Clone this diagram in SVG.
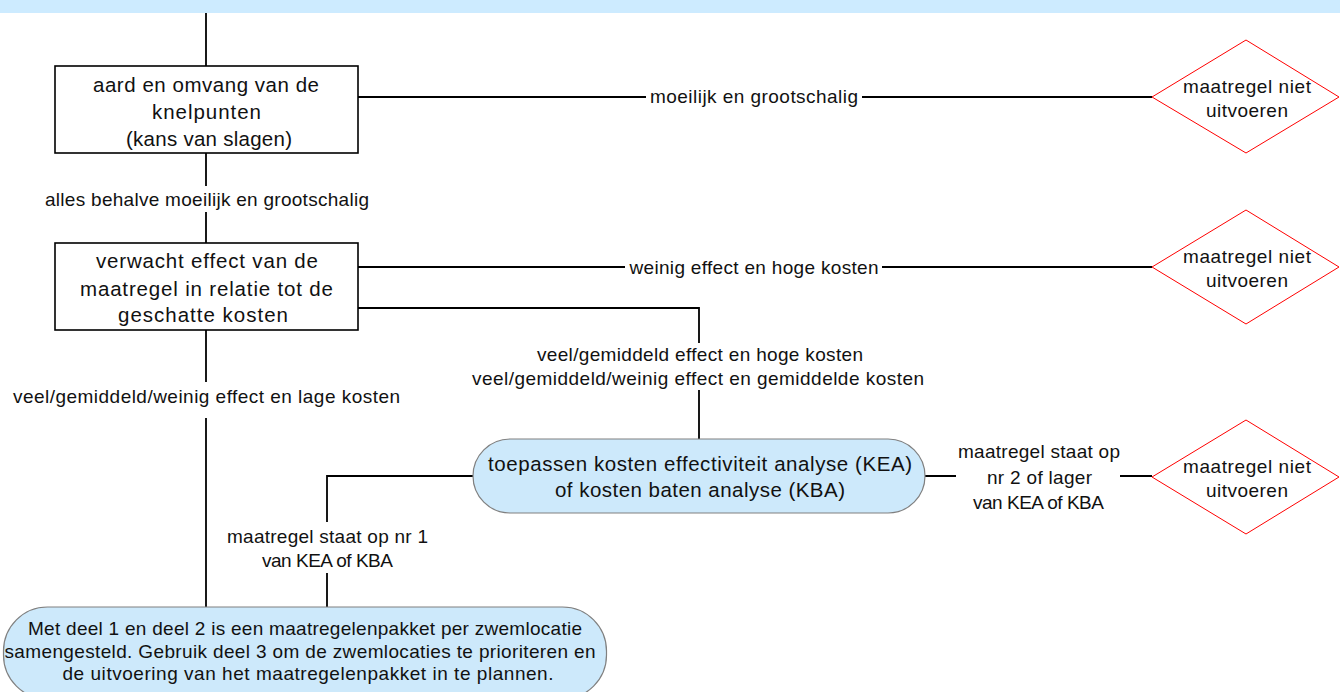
<svg xmlns="http://www.w3.org/2000/svg" width="1340" height="692" viewBox="0 0 1340 692">
<style>
text{font-family:"Liberation Sans",Arial,sans-serif;fill:#111;text-anchor:middle}
.bx{font-size:20.5px}
.lb{font-size:19px}
.box{fill:#fff;stroke:#000;stroke-width:1.6}
.term{fill:#cde9fb;stroke:#808080;stroke-width:1.2}
.dia{fill:#fff;stroke:#ff0000;stroke-width:1}
.con path{fill:none;stroke:#000;stroke-width:1.8}
.bg{fill:#fff}
</style>
<rect x="0" y="0" width="1340" height="13" fill="#cdebff"/>
<g class="con" id="connectors">
<path d="M206 13V66"/>
<path d="M358 97H1152"/>
<path d="M206 153V243"/>
<path d="M358 267H1152"/>
<path d="M358 308H699V439"/>
<path d="M206 330V607"/>
<path d="M925 476H1152"/>
<path d="M473 476H327V607"/>
</g>
<g id="labels">
<rect class="bg" x="646" y="86" width="216" height="22"/>
<text class="lb" x="754" y="103" textLength="208" lengthAdjust="spacing">moeilijk en grootschalig</text>
<rect class="bg" x="40" y="186" width="334" height="26"/>
<text class="lb" x="207" y="206" textLength="324" lengthAdjust="spacing">alles behalve moeilijk en grootschalig</text>
<rect class="bg" x="625" y="256" width="257" height="22"/>
<text class="lb" x="754" y="274" textLength="249" lengthAdjust="spacing">weinig effect en hoge kosten</text>
<rect class="bg" x="468" y="343" width="462" height="47"/>
<text class="lb" x="700" y="361" textLength="326" lengthAdjust="spacing">veel/gemiddeld effect en hoge kosten</text>
<text class="lb" x="698" y="385" textLength="452" lengthAdjust="spacing">veel/gemiddeld/weinig effect en gemiddelde kosten</text>
<rect class="bg" x="8" y="382" width="398" height="36"/>
<text class="lb" x="206.5" y="403" textLength="387" lengthAdjust="spacing">veel/gemiddeld/weinig effect en lage kosten</text>
<rect class="bg" x="956" y="440" width="164" height="76"/>
<text class="lb" x="1039" y="458" textLength="162" lengthAdjust="spacing">maatregel staat op</text>
<text class="lb" x="1039.5" y="484" textLength="105" lengthAdjust="spacing">nr 2 of lager</text>
<text class="lb" x="1038.5" y="509" textLength="131" lengthAdjust="spacing">van KEA of KBA</text>
<rect class="bg" x="222" y="522" width="210" height="51"/>
<text class="lb" x="327.5" y="543" textLength="201" lengthAdjust="spacing">maatregel staat op nr 1</text>
<text class="lb" x="327.5" y="567" textLength="131" lengthAdjust="spacing">van KEA of KBA</text>
</g>
<g id="n1">
<rect class="box" x="55" y="66" width="303" height="87"/>
<text class="bx" x="206" y="92" textLength="226" lengthAdjust="spacing">aard en omvang van de</text>
<text class="bx" x="206.5" y="119" textLength="109" lengthAdjust="spacing">knelpunten</text>
<text class="bx" x="209" y="146" textLength="166" lengthAdjust="spacing">(kans van slagen)</text>
</g>
<g id="n2">
<rect class="box" x="55" y="243" width="303" height="87"/>
<text class="bx" x="207" y="268" textLength="222" lengthAdjust="spacing">verwacht effect van de</text>
<text class="bx" x="206.5" y="296" textLength="253" lengthAdjust="spacing">maatregel in relatie tot de</text>
<text class="bx" x="203" y="322" textLength="170" lengthAdjust="spacing">geschatte kosten</text>
</g>
<g id="d1">
<polygon class="dia" points="1152,97 1246,40 1339,97 1246,153"/>
<text class="lb" x="1247" y="93" textLength="128" lengthAdjust="spacing">maatregel niet</text>
<text class="lb" x="1247" y="117" textLength="82" lengthAdjust="spacing">uitvoeren</text>
</g>
<g id="d2">
<polygon class="dia" points="1152,267 1246,210 1339,267 1246,324"/>
<text class="lb" x="1247" y="263" textLength="128" lengthAdjust="spacing">maatregel niet</text>
<text class="lb" x="1247" y="287" textLength="82" lengthAdjust="spacing">uitvoeren</text>
</g>
<g id="d3">
<polygon class="dia" points="1152,477 1246,420 1339,477 1246,534"/>
<text class="lb" x="1247" y="473" textLength="128" lengthAdjust="spacing">maatregel niet</text>
<text class="lb" x="1247" y="497" textLength="82" lengthAdjust="spacing">uitvoeren</text>
</g>
<g id="kea">
<rect class="term" x="473" y="439" width="452" height="74" rx="37" ry="37"/>
<text class="bx" x="700" y="471" textLength="424" lengthAdjust="spacing">toepassen kosten effectiviteit analyse (KEA)</text>
<text class="bx" x="700" y="497" textLength="290" lengthAdjust="spacing">of kosten baten analyse (KBA)</text>
</g>
<g id="end">
<rect class="term" x="3.5" y="607" width="603" height="92" rx="44" ry="44"/>
<text class="lb" x="305" y="635" textLength="554" lengthAdjust="spacing">Met deel 1 en deel 2 is een maatregelenpakket per zwemlocatie</text>
<text class="lb" x="300" y="658" textLength="591" lengthAdjust="spacing">samengesteld. Gebruik deel 3 om de zwemlocaties te prioriteren en</text>
<text class="lb" x="308" y="680" textLength="491" lengthAdjust="spacing">de uitvoering van het maatregelenpakket in te plannen.</text>
</g>
</svg>
